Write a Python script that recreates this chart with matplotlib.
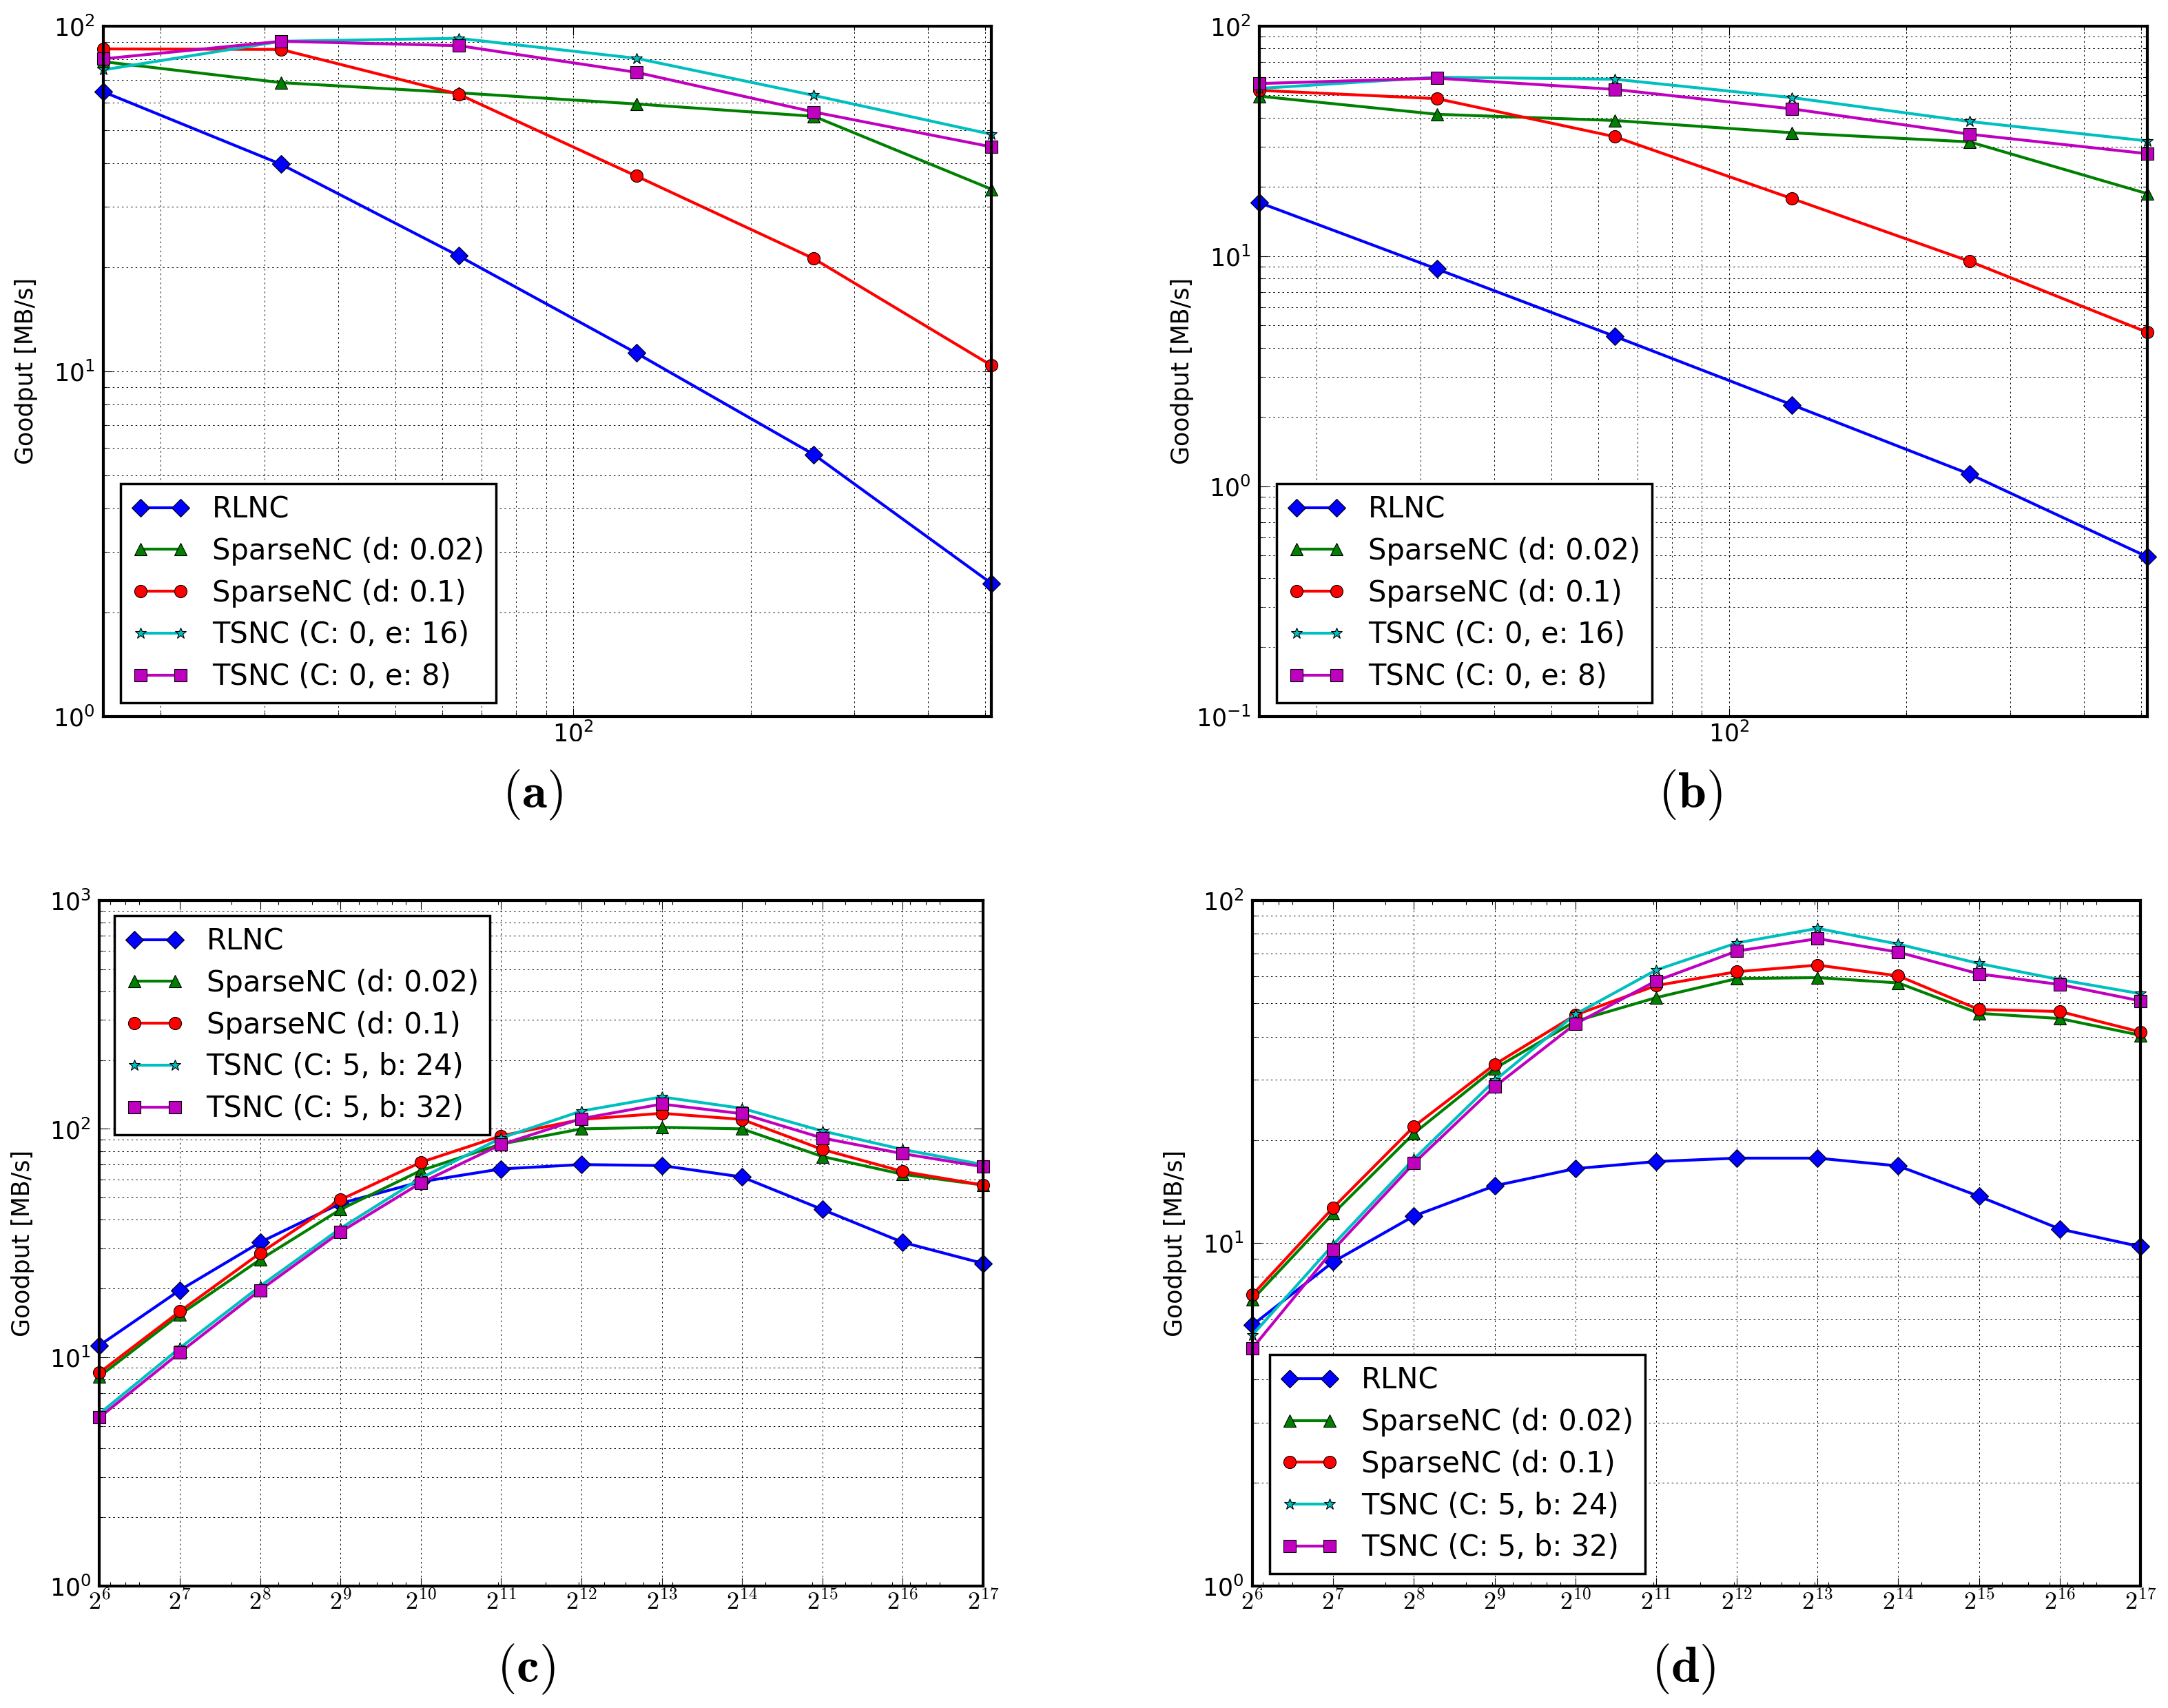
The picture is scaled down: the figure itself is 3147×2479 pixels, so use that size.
import matplotlib
matplotlib.use('Agg')
import matplotlib.pyplot as plt
from matplotlib.ticker import FixedLocator, FixedFormatter, NullFormatter
from matplotlib.patches import Rectangle

plt.rcParams['font.family'] = ['DejaVu Sans']
plt.rcParams['mathtext.fontset'] = 'cm'

# x values
sizes_top = [16, 32, 64, 128, 256, 512]
sizes_bot = [2 ** k for k in range(6, 18)]
bot_ticklabels = [r'$\mathbf{2^{%d}}$' % k for k in range(6, 18)]

labels_top = ['RLNC', 'SparseNC (d: 0.02)', 'SparseNC (d: 0.1)',
              'TSNC (C: 0, e: 16)', 'TSNC (C: 0, e: 8)']
labels_bot = ['RLNC', 'SparseNC (d: 0.02)', 'SparseNC (d: 0.1)',
              'TSNC (C: 5, b: 24)', 'TSNC (C: 5, b: 32)']

# (a)
a_rlnc = [64.5, 39.8, 21.6, 11.3, 5.74, 2.43]
a_sp002 = [78.9, 68.6, 64.1, 59.5, 54.8, 33.7]
a_sp01 = [85.9, 85.6, 63.5, 36.8, 21.2, 10.4]
a_ts16 = [74.7, 90.4, 92.2, 80.7, 63.0, 48.6]
a_ts8 = [80.4, 90.4, 87.8, 73.5, 56.4, 44.7]

# (b)
b_rlnc = [17.1, 8.8, 4.49, 2.26, 1.13, 0.494]
b_sp002 = [49.6, 41.4, 38.9, 34.4, 31.4, 18.7]
b_sp01 = [52.6, 48.4, 33.1, 17.8, 9.5, 4.67]
b_ts16 = [53.6, 60.0, 58.8, 48.9, 38.5, 31.7]
b_ts8 = [56.3, 59.4, 53.1, 43.7, 33.9, 27.9]

# (c)
c_rlnc = [11.3, 19.7, 31.9, 47.2, 58.7, 66.8, 69.8, 69.1, 61.6, 44.4, 31.9, 25.8]
c_sp002 = [8.27, 15.4, 26.8, 44.4, 65.7, 85.8, 100, 101.6, 100, 75.7, 63.3, 56.8]
c_sp01 = [8.59, 15.9, 28.6, 49.0, 71.4, 93.2, 110, 117, 110, 81.3, 65.1, 56.8]
c_ts24 = [5.68, 11.0, 20.5, 36.7, 60.9, 91.2, 119.7, 138, 123, 97.9, 81.3, 69.8]
c_ts32 = [5.47, 10.5, 19.7, 35.4, 58.0, 85.4, 110.9, 128.4, 116.5, 91.2, 77.9, 68.3]

# (d)
d_rlnc = [5.77, 8.82, 12.0, 14.7, 16.5, 17.3, 17.7, 17.7, 16.8, 13.7, 11.0, 9.77]
d_sp002 = [6.85, 12.2, 20.9, 32.3, 44.4, 52.0, 59.1, 59.5, 57.4, 46.8, 45.2, 40.4]
d_sp01 = [7.07, 12.7, 21.9, 33.2, 46.3, 56.4, 61.9, 64.7, 60.2, 48.0, 47.4, 41.3]
d_ts24 = [5.4, 9.9, 17.6, 29.8, 46.5, 62.6, 75.1, 82.8, 74.5, 65.4, 58.7, 53.4]
d_ts32 = [4.94, 9.56, 17.1, 28.6, 43.6, 58.2, 71.1, 77.3, 70.6, 61.0, 56.8, 50.9]

colors = ['b', 'g', 'r', 'c', 'm']
markers = ['D', '^', 'o', '*', 's']
msizes = [13, 13, 13, 12, 13]

W, H = 3147, 2479
fig = plt.figure(figsize=(W / 100, H / 100), dpi=100)

ax_a = fig.add_axes([0.0477, 0.5805, 0.4096, 0.4042])
ax_b = fig.add_axes([0.5809, 0.5805, 0.4096, 0.4042])
ax_c = fig.add_axes([0.0459, 0.0714, 0.4075, 0.4015])
ax_d = fig.add_axes([0.5777, 0.0714, 0.4096, 0.4015])


def draw(ax, x, series, labels, ylim, loc, anchor, bottom_row):
    for y, lab, c, mk, ms in zip(series, labels, colors, markers, msizes):
        ax.plot(x, y, color=c, marker=mk, markersize=ms, linewidth=3,
                markeredgecolor='k', markeredgewidth=0.8, label=lab, clip_on=False)
    ax.set_xscale('log')
    ax.set_yscale('log')
    ax.set_xlim(x[0], x[-1])
    ax.set_ylim(*ylim)
    grid_kw = dict(color='k', linestyle=(0, (2.5, 4.3)), linewidth=0.7)
    if bottom_row:
        ax.xaxis.set_major_locator(FixedLocator(x))
        ax.xaxis.set_major_formatter(FixedFormatter(bot_ticklabels))
        ax.xaxis.grid(True, which='major', **grid_kw)
    else:
        ax.xaxis.grid(True, which='both', **grid_kw)
    ax.xaxis.set_minor_formatter(NullFormatter())
    ax.yaxis.set_minor_formatter(NullFormatter())
    ax.yaxis.grid(True, which='both', **grid_kw)
    ax.set_axisbelow(True)
    ax.tick_params(which='both', direction='in', top=True, right=True, width=0.8)
    ax.tick_params(which='major', length=9, labelsize=25)
    ax.tick_params(which='minor', length=4.5)
    ax.tick_params(axis='y', which='major', pad=9)
    if bottom_row:
        ax.tick_params(axis='x', which='major', labelsize=26, pad=4)
    else:
        ax.tick_params(axis='x', which='major', pad=5)
    for sp in ax.spines.values():
        sp.set_linewidth(3)
    ax.set_ylabel('Goodput [MB/s]', fontsize=25)
    ax.yaxis.set_label_coords(-0.074, 0.5)
    leg = ax.legend(loc=loc, bbox_to_anchor=anchor, borderaxespad=0, fontsize=30,
                    numpoints=2, handlelength=2, handletextpad=0.8, borderpad=0.4,
                    labelspacing=0.45, fancybox=False, framealpha=1, edgecolor='k')
    leg.get_frame().set_linewidth(2.5)


draw(ax_a, sizes_top, [a_rlnc, a_sp002, a_sp01, a_ts16, a_ts8], labels_top,
     (1, 100), 'lower left', (0.019, 0.02), False)
draw(ax_b, sizes_top, [b_rlnc, b_sp002, b_sp01, b_ts16, b_ts8], labels_top,
     (0.1, 100), 'lower left', (0.019, 0.02), False)
draw(ax_c, sizes_bot, [c_rlnc, c_sp002, c_sp01, c_ts24, c_ts32], labels_bot,
     (1, 1000), 'upper left', (0.017, 0.978), True)
draw(ax_d, sizes_bot, [d_rlnc, d_sp002, d_sp01, d_ts24, d_ts32], labels_bot,
     (1, 100), 'lower left', (0.019, 0.018), True)

# the top subfigures were cropped through their x tick labels
fig.add_artist(Rectangle((0, 1 - 1110 / H), 1, 34 / H, transform=fig.transFigure,
                         facecolor='white', edgecolor='none', zorder=10))

# sub-captions
fig.text(773 / W, 1 - 1154 / H, r'$(\mathbf{a})$', ha='center', va='center', fontsize=53)
fig.text(2453 / W, 1 - 1154 / H, r'$(\mathbf{b})$', ha='center', va='center', fontsize=53)
fig.text(763 / W, 1 - 2423 / H, r'$(\mathbf{c})$', ha='center', va='center', fontsize=53)
fig.text(2443 / W, 1 - 2423 / H, r'$(\mathbf{d})$', ha='center', va='center', fontsize=53)

fig.savefig('out.png', dpi=100)
